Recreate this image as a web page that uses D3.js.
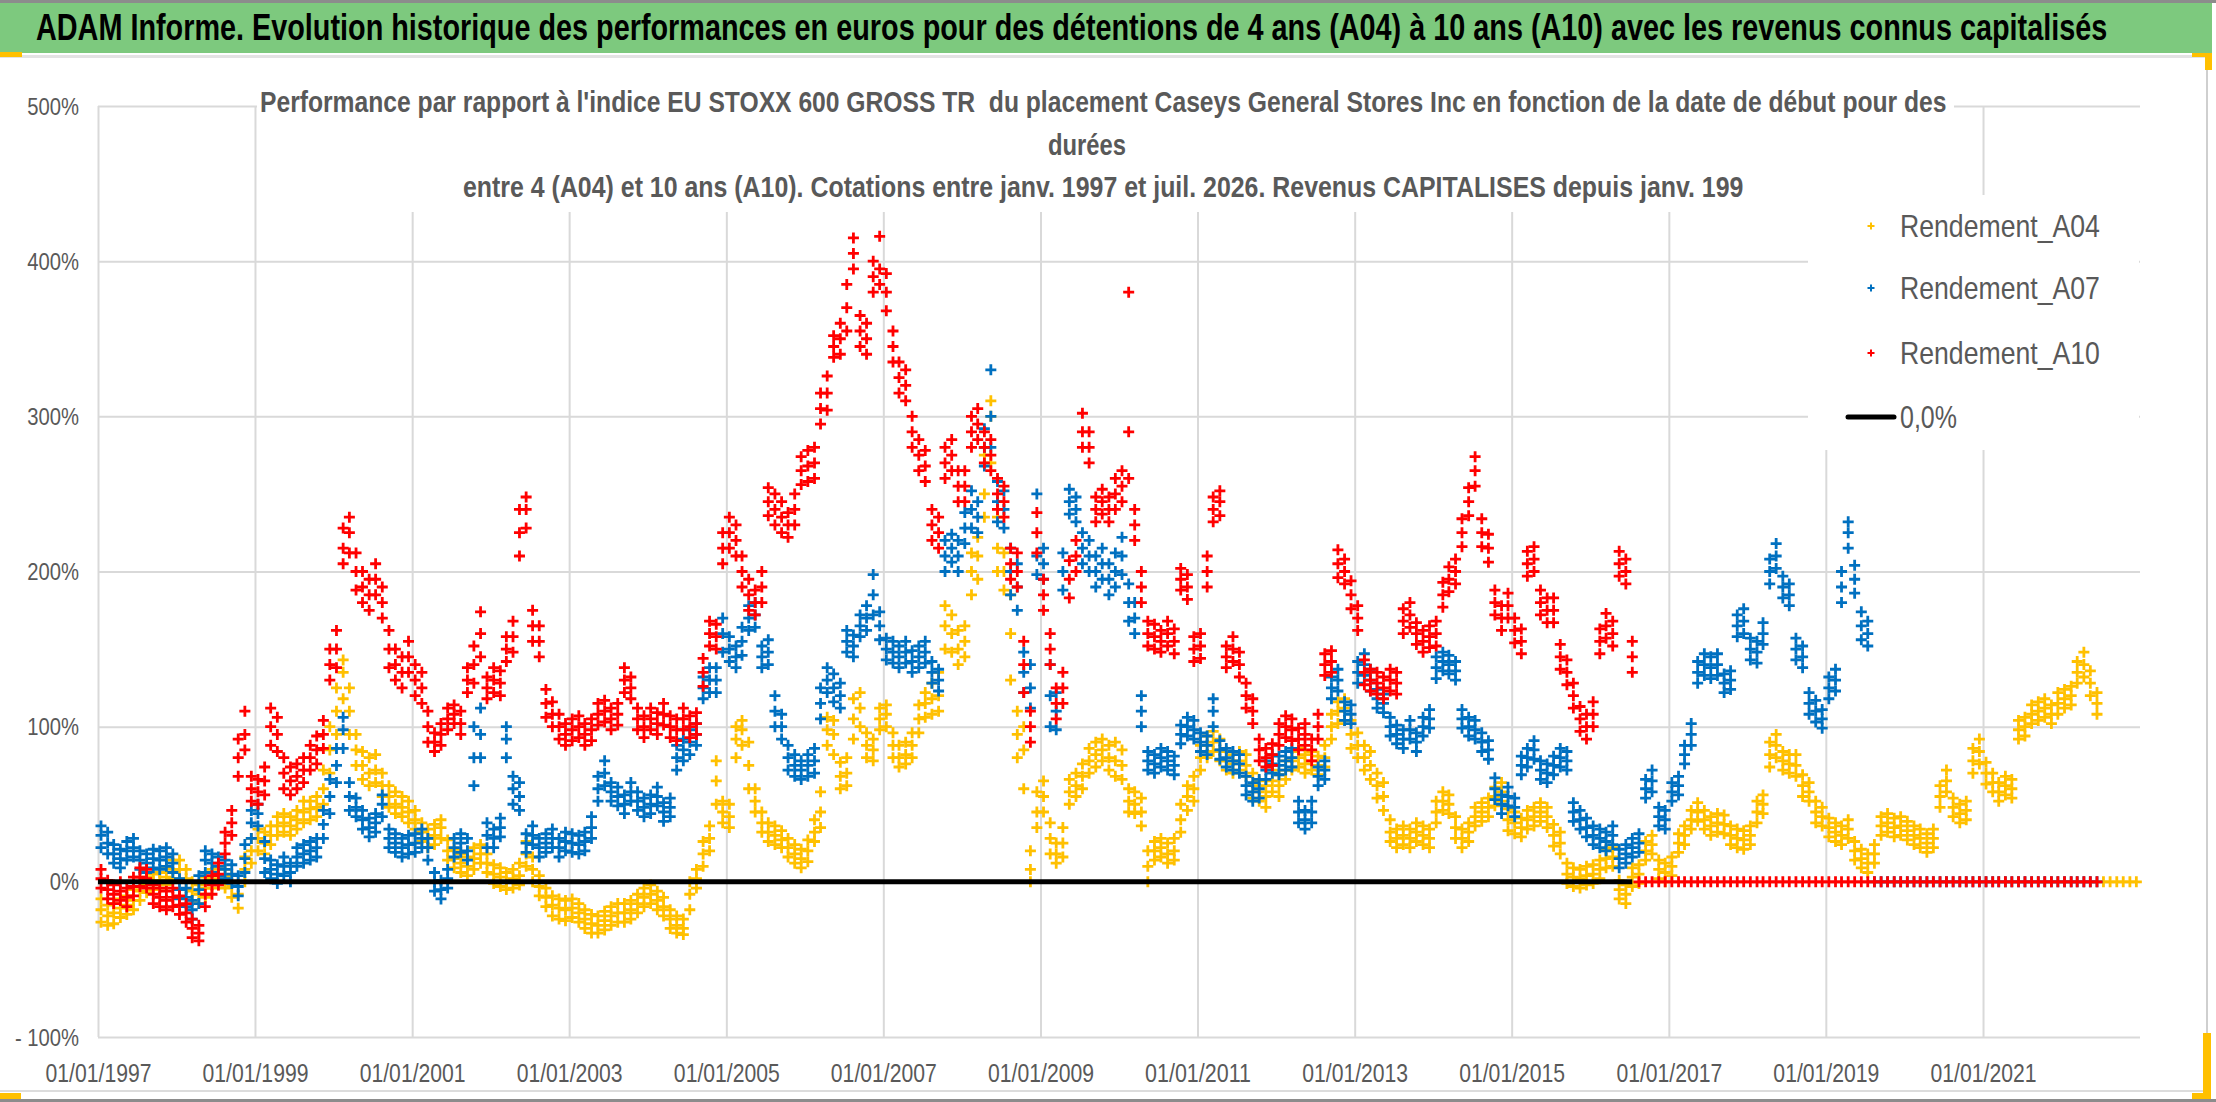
<!DOCTYPE html>
<html><head><meta charset="utf-8">
<script src="https://cdn.jsdelivr.net/npm/d3@7"></script>
<style>
body{margin:0;background:#fff;}
svg{display:block;}
text{font-family:"Liberation Sans","Arial",sans-serif;}
</style>
</head><body>
<script>
// ---------- texts ----------
const titleText = "ADAM Informe. Evolution historique des performances en euros pour des détentions de 4 ans (A04) à 10 ans (A10) avec les revenus connus capitalisés";
const subtitleLines = [
  "Performance par rapport à l'indice EU STOXX 600 GROSS TR  du placement Caseys General Stores Inc en fonction de la date de début pour des",
  "durées",
  "entre 4 (A04) et 10 ans (A10). Cotations entre janv. 1997 et juil. 2026. Revenus CAPITALISES depuis janv. 199"
];
// ---------- axes ----------
const yTicks = [-100, 0, 100, 200, 300, 400, 500];
const yTickLabels = ["- 100%", "0%", "100%", "200%", "300%", "400%", "500%"];
const xTickDates = ["1997-01-01","1999-01-01","2001-01-01","2003-01-01","2005-01-01","2007-01-01","2009-01-01","2011-01-01","2013-01-01","2015-01-01","2017-01-01","2019-01-01","2021-01-01"];
const xTickLabels = ["01/01/1997","01/01/1999","01/01/2001","01/01/2003","01/01/2005","01/01/2007","01/01/2009","01/01/2011","01/01/2013","01/01/2015","01/01/2017","01/01/2019","01/01/2021"];
const xDomain = ["1997-01-01", "2023-01-01"];
// ---------- series: monthly typical value (%), from January 1997 ----------
const seriesNames = ["Rendement_A04", "Rendement_A07", "Rendement_A10"];
const seriesColors = ["#FFC000", "#0070C0", "#FF0000"];
const firstMonth = "1997-01-15";
const rendA04 = [
  -18,-22,-20,-17,-15,-12,-6,-2,0,1,3,8,
  8,2,-6,-8,-4,2,4,2,-3,-8,8,20,
  28,25,30,36,38,36,40,45,47,48,60,85,
  110,135,110,85,75,70,72,62,55,50,48,45,
  40,32,28,30,35,20,15,12,10,15,18,12,
  5,3,0,2,4,18,8,-3,-10,-15,-17,-18,
  -17,-20,-24,-27,-28,-25,-22,-20,-20,-18,-14,-10,
  -8,-12,-16,-24,-28,-30,-8,2,18,28,65,45,
  42,92,98,75,52,38,32,30,27,22,18,15,
  20,32,45,98,95,68,70,105,112,88,85,105,
  108,88,80,82,88,105,115,118,120,165,160,150,
  155,200,210,250,300,215,200,160,95,85,8,45,
  55,28,18,25,58,62,68,78,82,85,80,78,
  75,52,50,45,10,20,22,18,20,40,55,60,
  80,88,90,85,78,76,78,75,62,58,55,65,
  62,72,78,80,76,78,75,80,100,110,112,95,
  88,80,75,62,55,32,28,30,28,32,30,28,
  45,52,50,35,28,32,42,45,48,55,58,40,
  38,35,40,42,45,42,30,25,5,3,2,4,
  5,8,15,16,-5,-8,3,5,20,24,8,6,
  10,25,30,40,45,40,36,38,37,30,28,27,
  30,45,50,82,88,78,76,75,62,58,45,42,
  35,32,30,34,20,15,12,18,36,38,35,36,
  33,30,28,25,28,55,65,48,44,46,78,84,
  70,64,58,62,60,98,100,108,110,112,108,115,
  118,120,135,140,128,115,0,0,0,0,0,0
];
// monthly low / high of the daily scatter (only months with real data)
const lowA04 = [
  -26,-28,-27,-23,-21,-18,-12,-7,-5,-4,-2,2,
  2,-5,-12,-14,-10,-4,-2,-4,-10,-17,0,12,
  20,18,24,30,32,30,34,38,40,42,50,70,
  95,118,95,75,66,62,64,55,48,44,42,38,
  34,26,22,24,28,14,9,6,4,8,12,6,
  -1,-3,-5,-4,-2,10,0,-9,-16,-22,-24,-25,
  -23,-26,-30,-33,-33,-31,-28,-26,-26,-24,-20,-16,
  -14,-18,-22,-30,-33,-34,-18,-4,10,20,50,38,
  35,80,88,60,45,32,26,24,22,16,12,9,
  13,26,35,88,82,60,62,92,100,80,78,98,
  100,80,74,76,80,96,106,108,110,150,148,140,
  145,185,195,235,270,200,188,130,80,60,0,35,
  45,18,12,16,50,55,60,70,74,78,72,68,
  66,45,44,36,0,14,16,12,14,32,46,52,
  72,80,84,78,72,70,72,68,54,52,48,58,
  55,66,72,74,70,72,69,74,92,102,104,86,
  80,72,66,54,46,26,22,24,22,26,24,22,
  38,46,44,28,22,26,36,39,42,49,52,33,
  31,29,34,36,39,35,23,18,-1,-3,-4,-2,
  -1,2,9,10,-11,-14,-3,-1,14,18,2,0,
  4,19,24,34,39,34,30,32,31,24,22,21,
  24,38,44,74,80,72,70,68,55,52,38,36,
  29,26,24,28,14,9,6,12,30,32,29,30,
  27,24,22,19,22,48,58,42,38,40,70,76,
  63,58,52,56,54,92,94,102,104,106,102,108,
  112,114,128,132,120,108
];
const highA04 = [
  -11,-15,-14,-11,-9,-5,0,3,5,6,9,14,
  14,8,0,-2,3,8,10,8,4,0,16,28,
  34,32,36,42,44,42,46,52,52,55,72,100,
  125,143,125,95,84,80,82,70,62,58,55,52,
  46,38,34,37,40,27,21,18,16,22,24,18,
  11,9,6,8,12,26,16,4,-4,-9,-11,-12,
  -11,-14,-18,-21,-22,-19,-16,-14,-14,-12,-8,-4,
  -2,-6,-10,-18,-22,-24,0,8,26,36,78,52,
  50,100,104,90,60,45,38,36,33,28,24,21,
  27,40,58,106,104,77,80,118,122,96,92,112,
  114,96,88,90,96,114,122,128,135,178,172,162,
  165,212,222,275,310,235,212,185,110,100,20,58,
  65,38,25,35,66,70,76,86,90,92,88,90,
  85,60,58,54,20,26,28,25,28,50,62,68,
  88,94,97,92,84,82,84,82,70,65,62,72,
  69,78,84,86,82,84,81,88,108,116,118,104,
  96,88,84,70,64,40,34,36,34,38,36,34,
  52,58,56,42,34,38,48,51,54,61,64,47,
  45,41,46,48,51,48,37,32,12,9,8,10,
  11,14,21,22,1,-2,9,11,26,30,14,12,
  16,31,36,46,51,46,42,44,43,36,34,33,
  36,52,56,90,95,84,82,82,69,64,52,48,
  41,38,36,40,26,21,18,24,42,44,41,42,
  39,36,34,31,34,62,72,54,50,52,86,92,
  77,70,64,68,66,104,106,114,116,118,114,122,
  124,126,142,148,136,122
];
const rendA07 = [
  30,25,18,15,20,22,14,12,15,14,16,12,
  -5,-10,-18,-5,14,12,10,8,5,-3,15,38,
  44,15,8,5,10,6,16,18,20,22,37,55,
  75,98,55,48,40,35,38,50,28,25,22,24,
  25,28,22,0,-5,2,22,25,20,80,95,30,
  28,35,92,60,55,25,30,22,25,28,22,26,
  25,24,26,35,60,70,58,55,50,58,52,48,
  50,55,45,48,80,85,90,95,125,130,130,160,
  150,145,155,170,172,145,148,110,100,80,75,72,
  75,78,115,130,125,120,155,152,165,170,185,165,
  150,148,145,148,142,145,148,135,130,210,215,210,
  228,240,235,280,300,245,240,200,190,135,125,210,
  205,120,110,200,245,240,215,210,200,205,195,200,
  210,180,170,110,78,76,80,78,75,95,100,98,
  90,88,110,85,80,78,76,62,58,60,72,76,
  75,78,80,45,40,45,68,72,125,130,110,108,
  135,140,130,118,115,100,95,92,98,90,100,105,
  138,142,140,136,105,100,98,90,85,60,50,55,
  48,75,80,85,72,70,75,80,78,45,40,35,
  30,28,26,30,15,18,22,25,60,65,42,40,
  58,62,82,95,135,140,138,140,128,130,165,168,
  150,148,160,200,210,190,185,150,145,115,110,105,
  125,130,190,225,195,165,160,0,0,0,0,0,
  0,0,0,0,0,0,0,0,0,0,0,0,
  0,0,0,0,0,0,0,0,0,0,0,0,
  0,0,0,0,0,0
];
const lowA07 = [
  22,18,12,9,14,16,8,6,9,8,10,6,
  -11,-16,-24,-14,6,6,4,2,-1,-9,6,28,
  36,6,2,-1,4,0,10,12,14,16,28,44,
  64,86,46,42,34,29,32,42,22,19,16,18,
  19,22,14,-6,-11,-4,16,19,14,62,80,22,
  22,29,80,50,46,19,24,16,19,22,16,20,
  19,18,20,28,52,62,52,49,44,52,46,42,
  44,49,39,42,72,78,82,88,118,122,122,148,
  142,138,146,162,164,138,140,100,92,72,68,66,
  68,70,105,122,116,112,148,145,158,162,172,156,
  143,141,138,141,135,138,141,128,123,200,206,200,
  218,228,225,268,280,232,228,185,175,122,112,198,
  195,100,98,188,237,232,205,200,190,195,185,190,
  198,168,160,100,72,70,74,72,69,89,94,92,
  84,82,100,79,74,72,70,56,52,54,66,70,
  69,72,74,38,34,38,62,66,118,123,104,102,
  128,133,123,112,109,94,89,86,92,84,94,99,
  131,136,134,130,99,94,92,84,79,53,44,49,
  42,69,74,79,66,64,69,74,72,39,34,29,
  24,22,20,24,9,12,16,19,54,58,36,34,
  52,56,76,88,128,133,131,133,122,124,158,160,
  143,141,153,192,202,183,178,143,138,108,103,99,
  118,123,180,215,186,156,152
];
const highA07 = [
  36,32,24,21,26,28,20,18,21,20,22,18,
  2,-4,-12,4,20,18,16,14,11,4,24,46,
  50,26,14,11,16,12,22,24,26,28,46,66,
  86,106,64,54,46,41,44,56,34,31,28,30,
  31,34,28,6,1,8,28,31,28,100,112,38,
  34,41,100,68,64,31,36,28,31,34,28,32,
  31,30,32,42,68,78,64,61,56,64,58,54,
  56,61,51,54,88,92,98,102,132,138,138,170,
  158,152,164,178,180,152,156,120,108,88,82,78,
  82,86,125,138,134,128,162,159,172,178,198,174,
  157,155,152,155,149,152,155,142,137,220,224,220,
  238,252,245,292,330,258,252,215,205,148,140,250,
  215,140,122,212,253,248,225,220,210,215,205,212,
  222,192,180,120,84,82,86,84,81,101,106,104,
  96,94,118,91,86,84,82,68,64,66,78,82,
  81,84,86,52,46,52,74,78,132,137,116,114,
  142,147,137,124,121,106,101,98,104,96,106,111,
  145,148,146,142,111,106,104,96,91,67,56,61,
  54,81,86,91,78,76,81,86,84,51,46,41,
  36,34,32,36,21,24,28,31,66,72,48,46,
  64,68,88,102,142,147,145,147,134,136,172,176,
  157,155,167,208,218,197,192,157,152,122,117,111,
  132,137,200,232,204,174,168
];
const rendA10 = [
  2,-5,-8,-6,-10,-3,3,2,-8,-10,-12,-10,
  -15,-20,-30,-33,-8,-2,5,25,38,80,95,60,
  58,65,100,95,70,65,68,72,80,85,95,140,
  150,215,225,200,190,185,195,180,150,140,135,145,
  130,125,100,90,95,105,108,102,130,140,160,125,
  130,128,150,158,225,240,165,155,115,108,100,95,
  98,100,95,98,108,110,105,108,130,125,105,100,
  105,102,108,100,98,105,100,102,135,160,158,215,
  225,220,200,185,180,190,245,240,235,230,240,265,
  268,270,305,315,345,350,370,405,355,350,390,395,
  380,345,325,320,290,275,268,230,225,270,275,255,
  255,290,295,280,275,250,245,205,200,140,100,225,
  185,150,115,125,195,210,290,280,240,245,240,250,
  255,290,230,190,160,158,155,160,155,195,190,150,
  152,200,240,245,145,150,140,120,110,85,80,82,
  95,100,98,92,95,85,100,140,142,205,200,185,
  170,135,130,128,125,130,128,168,172,160,155,158,
  160,185,195,200,225,245,265,225,215,180,170,178,
  162,155,205,208,180,175,175,145,135,120,105,100,
  108,155,165,160,205,200,145,0,0,0,0,0,
  0,0,0,0,0,0,0,0,0,0,0,0,
  0,0,0,0,0,0,0,0,0,0,0,0,
  0,0,0,0,0,0,0,0,0,0,0,0,
  0,0,0,0,0,0,0,0,0,0,0,0,
  0,0,0,0,0,0,0,0,0,0,0,0,
  0,0,0,0,0,0
];
const lowA10 = [
  -4,-11,-14,-12,-16,-9,-3,-4,-14,-16,-18,-16,
  -21,-26,-36,-38,-16,-8,-2,18,30,68,85,52,
  50,56,88,84,60,56,60,64,72,76,86,130,
  138,205,212,188,180,175,185,170,138,130,125,135,
  120,115,90,84,88,98,102,95,122,128,145,118,
  122,120,142,148,210,228,155,145,106,100,92,88,
  91,93,88,91,101,103,98,101,122,118,98,93,
  98,95,101,93,91,98,93,95,126,152,150,205,
  215,210,190,175,172,180,236,230,225,222,230,256,
  258,260,295,304,338,340,355,395,345,340,380,385,
  368,335,315,310,280,265,258,220,215,260,265,245,
  245,280,285,270,265,240,235,195,190,122,90,212,
  175,140,105,115,183,200,280,270,232,237,232,240,
  245,260,220,180,152,150,148,152,147,188,182,142,
  144,190,232,236,138,142,132,112,102,78,74,75,
  88,93,91,85,88,78,92,133,135,196,192,176,
  162,127,123,121,118,123,121,160,164,153,148,151,
  152,177,187,192,216,236,255,216,206,172,162,170,
  154,147,197,200,172,167,167,137,127,112,97,92,
  100,147,157,152,197,192,135
];
const highA10 = [
  8,1,-2,0,-4,3,9,8,-2,-4,-6,-4,
  -9,-14,-24,-28,0,4,12,32,46,92,110,68,
  66,74,112,106,80,74,76,80,88,94,104,150,
  162,228,235,212,200,195,205,190,162,150,145,155,
  140,135,110,96,102,112,114,110,138,152,174,132,
  138,136,158,168,240,248,175,165,124,116,108,102,
  105,107,102,105,115,117,112,115,138,132,112,107,
  112,109,115,107,105,112,107,109,144,168,166,225,
  235,230,210,195,188,200,254,250,245,238,250,274,
  278,280,315,326,352,360,385,415,365,360,400,416,
  392,355,335,330,300,285,278,240,235,280,285,265,
  265,300,305,290,285,260,255,215,212,155,110,238,
  195,160,125,135,207,220,302,290,248,253,248,260,
  265,380,240,200,168,166,162,168,163,202,198,158,
  160,210,248,252,152,158,148,128,118,92,86,89,
  102,107,105,99,102,92,108,147,149,214,208,194,
  178,143,137,135,132,137,135,176,180,167,162,165,
  168,193,203,208,234,254,274,234,224,188,178,186,
  170,163,213,216,188,183,183,153,143,128,113,108,
  116,163,173,168,213,208,155
];
const zeroLineName = "0,0%";
const zeroLineValue = 0;
const zeroLineRange = ["1997-01-01", "2016-07-15"];

// ---------- drawing ----------
const W = 2216, H = 1102;
const svg = d3.select("body").append("svg").attr("width", W).attr("height", H);
const parse = d3.utcParse("%Y-%m-%d");
const M = {left: 98, right: 2140, top: 106, bottom: 1037};

// fit a text horizontally to a measured target width (condensed look)
function fitText(sel, x, y, target, anchor) {
  sel.attr("x", 0).attr("y", 0).attr("text-anchor", anchor || "start");
  const w = sel.node().getComputedTextLength();
  const s = target / w;
  sel.attr("transform", `translate(${x},${y}) scale(${s},1)`);
  return sel;
}

// frame
svg.append("rect").attr("x",0).attr("y",0).attr("width",W).attr("height",H).attr("fill","#fff");
svg.append("rect").attr("x",0).attr("y",0).attr("width",W).attr("height",3).attr("fill","#8c8c8c");
svg.append("rect").attr("x",0).attr("y",3).attr("width",2212).attr("height",50).attr("fill","#7DC97E");
svg.append("rect").attr("x",0).attr("y",55).attr("width",2207).attr("height",3).attr("fill","#e3e3e3");
svg.append("rect").attr("x",2206).attr("y",55).attr("width",2).attr("height",1037).attr("fill","#cfcfcf");
svg.append("rect").attr("x",0).attr("y",1090).attr("width",2207).attr("height",2).attr("fill","#dcdcdc");
svg.append("rect").attr("x",0).attr("y",1099).attr("width",W).attr("height",3).attr("fill","#8c8c8c");
const handle = "#FFC000";
svg.append("rect").attr("x",0).attr("y",52).attr("width",22).attr("height",5).attr("fill",handle);
svg.append("rect").attr("x",2192).attr("y",53).attr("width",20).attr("height",4).attr("fill",handle);
svg.append("rect").attr("x",2205).attr("y",53).attr("width",7).attr("height",17).attr("fill",handle);
svg.append("rect").attr("x",2203).attr("y",1033).attr("width",8).attr("height",66).attr("fill",handle);
svg.append("rect").attr("x",2192).attr("y",1093).attr("width",19).attr("height",6).attr("fill",handle);
svg.append("rect").attr("x",0).attr("y",1093).attr("width",21).attr("height",6).attr("fill",handle);

// title
fitText(svg.append("text").attr("font-size",36).attr("font-weight","bold").attr("fill","#000").text(titleText),
  36, 40, 2072, "start");

// scales
const x = d3.scaleUtc().domain(xDomain.map(parse)).range([M.left, M.right]);
const y = d3.scaleLinear().domain([-100, 500]).range([M.bottom, M.top]);

// gridlines + tick labels via axes
const gx = svg.append("g").attr("transform",`translate(0,${M.bottom})`)
  .call(d3.axisBottom(x).tickValues(xTickDates.map(parse))
    .tickSize(-(M.bottom - M.top)).tickFormat((d,i)=>xTickLabels[i]));
gx.select(".domain").remove();
gx.selectAll(".tick line").attr("stroke","#d9d9d9").attr("stroke-width",2);
gx.selectAll(".tick text").attr("dy","0.35em").attr("font-size",25).attr("fill","#595959")
  .style("font-family",'"Liberation Sans",Arial,sans-serif')
  .each(function(){ fitText(d3.select(this), 0, 36, 106, "middle"); });

const gy = svg.append("g").attr("transform",`translate(${M.left},0)`)
  .call(d3.axisLeft(y).tickValues(yTicks).tickSize(-(M.right - M.left))
    .tickFormat((d,i)=>yTickLabels[i]));
gy.select(".domain").remove();
gy.selectAll(".tick line").attr("stroke","#d9d9d9").attr("stroke-width",2);
gy.selectAll(".tick text").attr("dy","0.35em").attr("font-size",23).attr("fill","#595959")
  .style("font-family",'"Liberation Sans",Arial,sans-serif')
  .each(function(){
    const t = d3.select(this);
    const w = t.node().getComputedTextLength();
    fitText(t, -19, 0, w * 0.88, "end");
  });

// subtitle box and text
svg.append("rect").attr("x",257).attr("y",64).attr("width",1697).attr("height",148).attr("fill","#fff");
const subLayout = [
  {x:260, y:112, len:1687, anchor:"start"},
  {x:1087, y:155, len:78, anchor:"middle"},
  {x:463, y:197, len:1281, anchor:"start"}
];
subtitleLines.forEach((t,i)=>{
  const L = subLayout[i];
  const el = svg.append("text").attr("font-size",30).attr("font-weight","bold")
    .attr("fill","#595959").style("white-space","pre").text(t);
  fitText(el, L.x, L.y, L.len, L.anchor);
});

// legend box
svg.append("rect").attr("x",1808).attr("y",195).attr("width",331).attr("height",255).attr("fill","#fff");

// data
const plus = h => `M${-h},0H${h}M0,${-h}V${h}`;
const month0 = parse(firstMonth);
const gData = svg.append("g");
const groups = [
  [rendA04, lowA04, highA04],
  [rendA07, lowA07, highA07],
  [rendA10, lowA10, highA10]
];
groups.forEach((arrs, si) => {
  const pts = [];
  arrs.forEach(vals => vals.forEach((v,i) => pts.push({date: d3.utcMonth.offset(month0, i), v})));
  gData.append("g").selectAll("path").data(pts).join("path")
    .attr("d", plus(5.5))
    .attr("transform", d=>`translate(${x(d.date)},${y(d.v)})`)
    .attr("stroke", seriesColors[si]).attr("stroke-width", 2.8).attr("fill","none");
});

// 0,0% line
svg.append("line")
  .attr("x1", x(parse(zeroLineRange[0]))).attr("x2", x(parse(zeroLineRange[1])))
  .attr("y1", y(zeroLineValue)).attr("y2", y(zeroLineValue))
  .attr("stroke","#000").attr("stroke-width",5);

// legend
const legY = [226, 288, 353];
seriesNames.forEach((n,i)=>{
  svg.append("path").attr("d", plus(3.5)).attr("transform",`translate(1871,${legY[i]})`)
    .attr("stroke", seriesColors[i]).attr("stroke-width",2).attr("fill","none");
  const t = svg.append("text").attr("dy","0.36em").attr("font-size",31).attr("fill","#595959").text(n);
  fitText(t, 1900, legY[i], 200, "start");
});
svg.append("line").attr("x1",1848).attr("x2",1894).attr("y1",417).attr("y2",417)
  .attr("stroke","#000").attr("stroke-width",5).attr("stroke-linecap","round");
fitText(svg.append("text").attr("dy","0.36em").attr("font-size",31).attr("fill","#595959").text(zeroLineName),
  1900, 417, 57, "start");
</script>
</body></html>
